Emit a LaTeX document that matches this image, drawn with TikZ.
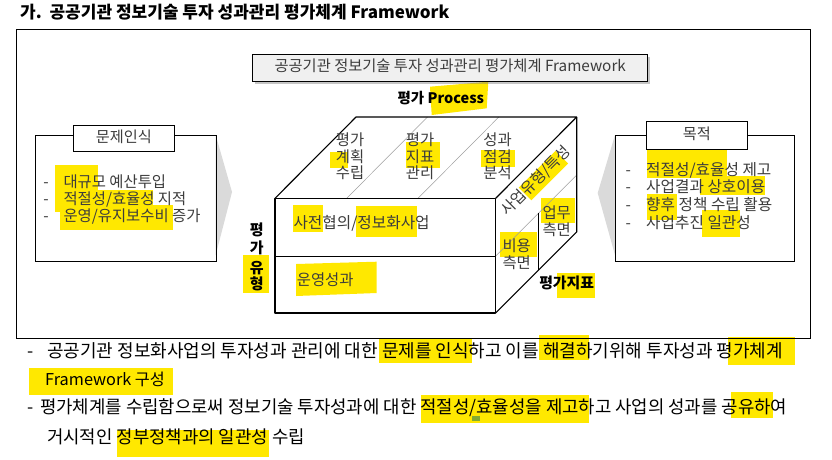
\documentclass[tikz,border=0pt]{standalone}
\usepackage{fontspec}
\setmainfont{Noto Sans CJK KR}
\usetikzlibrary{shadows}
\definecolor{hlc}{RGB}{255,232,0}
\definecolor{txtgray}{RGB}{60,60,60}
\definecolor{shadec}{RGB}{218,218,218}
\definecolor{hdrfill}{RGB}{240,240,240}
\definecolor{greenmark}{RGB}{130,170,50}
\newcommand\fsz[1]{\fontsize{#1}{#1}\selectfont}
\begin{document}
\begin{tikzpicture}[x=1pt,y=-1pt,
  tx/.style={inner sep=0pt, text height=.82em, text depth=.06em, text=txtgray},
  f14/.style={font=\fsz{15.4}},
  fb/.style={font=\fsz{17.8}, text=black},
  thinline/.style={draw=gray!75, line width=.5pt},
  cubeedge/.style={line width=1.1pt, line join=round},
  labelbox/.style={draw, fill=white, line width=.9pt, inner sep=0pt, text height=.82em, text depth=.06em, text=txtgray, font=\fsz{15.2}},
  bigbox/.style={draw, line width=.9pt, inner sep=0pt},
]
\useasboundingbox (0,0) rectangle (832,459);
\fill[white] (0,0) rectangle (832,459);

% ---------------- highlights ----------------
% Process
\fill[hlc] (430,86.7) -- (488.3,81.7) -- (486.7,108.3) -- (431.7,115) -- cycle;
% left box
\fill[hlc] (55,165) rectangle (98.3,200);
\fill[hlc] (55,190) rectangle (153.3,212);
\fill[hlc] (60,205) rectangle (173.3,230);
% right box
\fill[hlc] (647.3,146.7) rectangle (726.7,178);
\fill[hlc] (700,176) rectangle (765,195);
\fill[hlc] (647.3,194) rectangle (676.7,220);
\fill[hlc] (701.7,210) rectangle (740,236.7);
% top face
\fill[hlc] (330,151.7) rectangle (348,168);
\fill[hlc] (406,141.7) rectangle (440,168);
\fill[hlc] (480.7,150) rectangle (515,166.7);
% front face
\fill[hlc] (293,205) rectangle (323,231.7);
\fill[hlc] (356,206) rectangle (416.7,236.7);
\fill[hlc] (296,264) -- (376.7,261.7) -- (376.7,293) -- (296,296) -- cycle;
% right face
\fill[hlc] (540.5,198.3) rectangle (575,223.3);
\fill[hlc] (500,231.7) rectangle (536.7,256.7);
\fill[hlc, rotate around={45:(543.4,175.6)}] (517.4,166.6) rectangle (569.4,184.6);
% labels
\fill[hlc] (557,273) rectangle (595,298);
\fill[hlc] (242.7,255) rectangle (269.3,293.3);
% bottom text
\fill[hlc] (378.7,338) rectangle (472,363);
\fill[hlc] (538.7,335) rectangle (589,360);
\fill[hlc] (728,336.7) rectangle (794.7,365);
\fill[hlc] (29,368) rectangle (173,395);
\fill[hlc] (421,395) rectangle (589,423.3);
\fill[greenmark] (472,416) rectangle (480,421);
\fill[hlc] (730.7,391.7) rectangle (773,418);
\fill[hlc] (117,430) rectangle (269,456.7);

% ---------------- frame & title ----------------
\draw[line width=.9pt] (16,29.3) rectangle (810,338);
\node[tx, anchor=west, text=black, font=\bfseries\fsz{17}] (title) at (20,15) {가.\ \ 공공기관 정보기술 투자 성과관리 평가체계 Framework};

% header
\node[draw, fill=hdrfill, line width=1pt, minimum width=395pt, minimum height=27.7pt, inner sep=0pt,
      text height=.82em, text depth=.06em, text=txtgray, font=\fsz{15.3},
      drop shadow={shadow xshift=2.5pt, shadow yshift=-2.5pt, opacity=.45}] (hdr) at (450.2,67.9)
      {공공기관 정보기술 투자 성과관리 평가체계 Framework};
\node[tx, text=black, font=\bfseries\fsz{14.5}] (proc) at (440.8,100) {평가 Process};

% ---------------- side boxes ----------------
\fill[shadec] (215.7,135) -- (232,192) -- (215.7,255) -- cycle;
\fill[shadec] (615,135) -- (597.7,193) -- (615,255) -- cycle;
\node[bigbox, minimum width=180.7pt, minimum height=126pt, anchor=north west] (lbox) at (35,135) {};
\node[bigbox, minimum width=179pt, minimum height=126pt, anchor=north west] (rbox) at (615,135) {};
\node[labelbox, minimum width=101pt, minimum height=26.7pt] (lhead) at (123.8,138.3) {문제인식};
\node[labelbox, minimum width=100.3pt, minimum height=27.5pt] (rhead) at (696.8,135.2) {목적};

% left bullets
\foreach \i/\yy/\tt in {1/183.3/{대규모 예산투입}, 2/201/{적절성/효율성 지적}, 3/217.7/{운영/유지보수비 증가}}{
  \node[tx, f14] (ld\i) at (46,\yy) {-};
  \node[tx, f14, anchor=west] (lt\i) at (63.3,\yy) {\tt};
}
% right bullets
\foreach \i/\yy/\tt in {1/171.7/{적절성/효율성 제고}, 2/189/{사업결과 상호이용}, 3/206.7/{향후 정책 수립 활용}, 4/224.3/{사업추진 일관성}}{
  \node[tx, f14] (rd\i) at (628.3,\yy) {-};
  \node[tx, font=\fsz{15.7}, anchor=west] (rt\i) at (646,\yy) {\tt};
}

% ---------------- cube ----------------
\coordinate (A) at (275,198.3);
\coordinate (B) at (495.7,198.3);
\coordinate (C) at (495.7,313);
\coordinate (D) at (275,313);
\coordinate (E) at (356,117);
\coordinate (F) at (576.7,117);
\coordinate (G) at (576.7,232);
% thin dividers
\draw[thinline] (346.7,198.3) -- (427.5,117);
\draw[thinline] (418,198.3) -- (498.8,117);
\draw[thinline] (495.7,256) -- (576.7,175);
\draw[line width=.7pt] (275,256) -- (495.7,256);
\draw[line width=.7pt] (538.5,213.2) -- (538.5,270.2);
% edges
\draw[cubeedge] (A) -- (B) -- (C) -- (D) -- cycle;
\draw[cubeedge] (A) -- (E) -- (F) -- (B);
\draw[cubeedge] (F) -- (G) -- (C);

% top face texts
\foreach \c/\xx/\ta/\tb/\tc in {1/350/평가/계획/수립, 2/420/평가/지표/관리, 3/497.5/성과/점검/분석}{
  \node[tx, f14] (tp\c a) at (\xx,141.7) {\ta};
  \node[tx, f14] (tp\c b) at (\xx,158.3) {\tb};
  \node[tx, f14] (tp\c c) at (\xx,175) {\tc};
}
% front texts
\node[tx, font=\fsz{15.7}, anchor=west] (pre) at (293.3,225) {사전협의/정보화사업};
\node[tx, f14, anchor=west] (ops) at (296.7,281.7) {운영성과};
% right face texts
\node[tx, f14, rotate=45] (saup) at (537,182) {사업유형/특성};
\node[tx, f14] (ew1) at (556.7,215) {업무};
\node[tx, f14] (ew2) at (556.7,231.7) {측면};
\node[tx, f14] (cw1) at (516.7,247.7) {비용};
\node[tx, f14] (cw2) at (516.7,265) {측면};
% axis labels
\node[tx, text=black, font=\bfseries\fsz{14.9}] (pgjp) at (566.7,285) {평가지표};
\foreach \i/\yy/\ch in {1/231.7/평, 2/249.3/가, 3/269.3/유, 4/286/형}{
  \node[tx, text=black, font=\bfseries\fsz{15}] (pgy\i) at (256.7,\yy) {\ch};
}

% ---------------- bottom text ----------------
\node[tx, fb] (b1d) at (31,354) {-};
\node[tx, fb, font=\fsz{18}, anchor=west] (b1) at (47,354) {공공기관 정보화사업의 투자성과 관리에 대한 문제를 인식하고 이를 해결하기위해 투자성과 평가체계};
\node[tx, fb, font=\fsz{16.3}, anchor=west] (b2) at (45,382) {Framework 구성};
\node[tx, fb] (b3d) at (31,410) {-};
\node[tx, fb, anchor=west] (b3) at (40,410) {평가체계를 수립함으로써 정보기술 투자성과에 대한 적절성/효율성을 제고하고 사업의 성과를 공유하여};
\node[tx, fb, anchor=west] (b4) at (47,440) {거시적인 정부정책과의 일관성 수립};
\end{tikzpicture}
\end{document}
